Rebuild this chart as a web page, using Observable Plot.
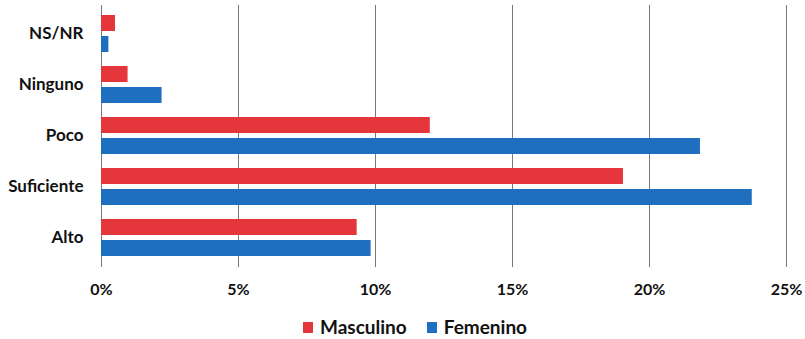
<!DOCTYPE html>
<html>
<head>
<meta charset="utf-8">
<script src="https://cdn.jsdelivr.net/npm/d3@7"></script>
<script src="https://cdn.jsdelivr.net/npm/@observablehq/plot@0.6"></script>
<style>
  body { margin: 0; background: #fff; font-family: Lato, "Open Sans", sans-serif; }
  #chart { width: 805px; }
  .legend { display: flex; justify-content: center; gap: 20px; font-weight: bold; font-size: 19px; color: #111; margin-left: 25px; margin-top: 11px; line-height: 22px; }
  .legend span.sw { display: inline-block; width: 10px; height: 11px; margin-right: 7px; }
  .legend div { display: flex; align-items: center; }
</style>
</head>
<body>
<div id="chart"></div>
<script>
const categories = ["NS/NR", "Ninguno", "Poco", "Suficiente", "Alto"];
const masculino = [0.51, 0.97, 12.0, 19.05, 9.33];
const femenino = [0.27, 2.21, 21.86, 23.75, 9.84];
const series = ["Masculino", "Femenino"];
const colors = ["#e5363b", "#1f6fc0"];
const xTicks = [0, 5, 10, 15, 20, 25];

const dataM = categories.map((c, i) => ({cat: c, v: masculino[i] / 100}));
const dataF = categories.map((c, i) => ({cat: c, v: femenino[i] / 100}));

const chart = Plot.plot({
  width: 805,
  height: 305,
  marginLeft: 101,
  marginRight: 19,
  marginTop: 5,
  marginBottom: 38,
  style: {fontFamily: "Lato, 'Open Sans', sans-serif", fontWeight: "bold", color: "#111"},
  x: {domain: [0, 0.25], label: null},
  y: {domain: categories, paddingInner: 0.266, paddingOuter: 0.165, label: null},
  marks: [
    Plot.ruleX(xTicks.map(d => d / 100), {stroke: "#7a7a7a", strokeWidth: 1, strokeOpacity: 1}),
    Plot.barX(dataM, {x: "v", y: "cat", fill: colors[0], insetBottom: 21}),
    Plot.barX(dataF, {x: "v", y: "cat", fill: colors[1], insetTop: 21}),
    Plot.axisX({ticks: xTicks.map(d => d / 100), tickFormat: d => Math.round(d * 100) + "%", tickSize: 0, tickPadding: 16, fontSize: 16, fontWeight: "bold", label: null}),
    Plot.axisY({tickSize: 0, tickPadding: 18, fontSize: 17, fontWeight: "bold", label: null})
  ]
});
document.getElementById("chart").appendChild(chart);

const legend = document.createElement("div");
legend.className = "legend";
series.forEach((s, i) => {
  const item = document.createElement("div");
  item.innerHTML = `<span class="sw" style="background:${colors[i]}"></span>${s}`;
  legend.appendChild(item);
});
document.getElementById("chart").appendChild(legend);
</script>
</body>
</html>
